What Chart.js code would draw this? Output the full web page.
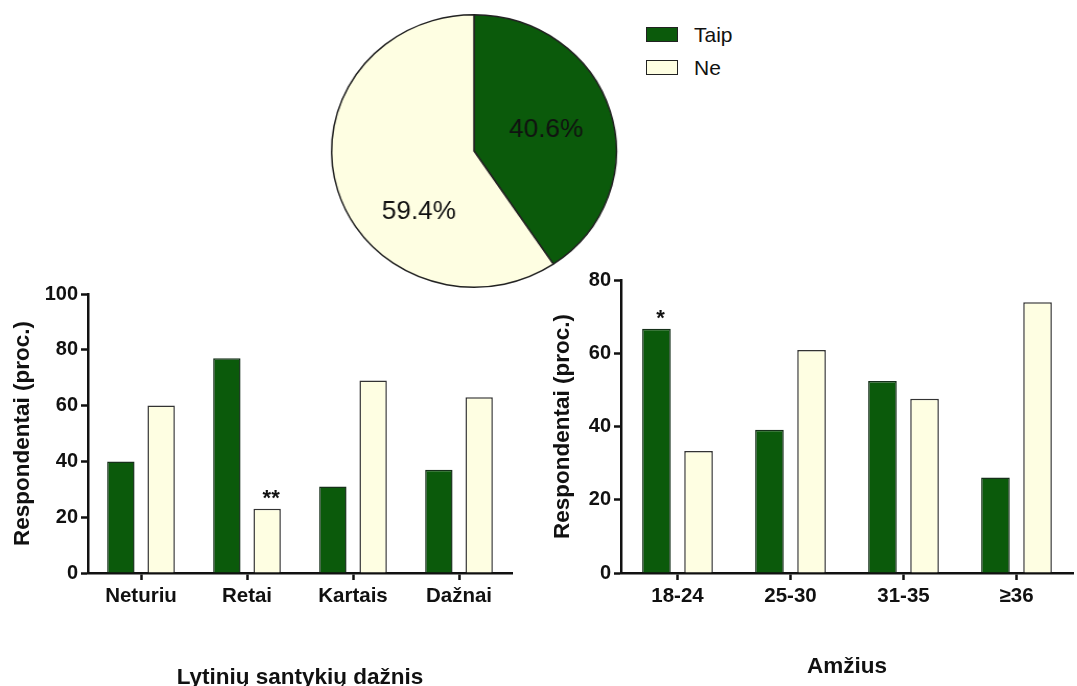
<!DOCTYPE html>
<html>
<head>
<meta charset="utf-8">
<script src="https://cdn.jsdelivr.net/npm/chart.js@4"></script>
<style>
  html, body { margin: 0; padding: 0; background: #fff; overflow: hidden; }
  body { width: 1077px; height: 686px; position: relative; font-family: 'Liberation Sans', Arial, sans-serif; }
  .box { position: absolute; }
  #pieBox { left: 334px; top: 11px; width: 280px; height: 280px; transform: scaleX(1.045); transform-origin: 140px 140px; }
  #leftBox { left: 0; top: 250px; width: 540px; height: 450px; }
  #rightBox { left: 540px; top: 250px; width: 537px; height: 450px; }
  #legend { position: absolute; left: 646px; top: 18px; }
  .leg-row { display: flex; align-items: center; height: 33px; font-size: 21px; color: #111; }
  .leg-sw { width: 30px; height: 13px; margin-right: 16px; border: 1.5px solid #222; }
</style>
</head>
<body>
<div class="box" id="pieBox"><canvas id="pie" width="280" height="280"></canvas></div>
<div id="legend"></div>
<div class="box" id="leftBox"><canvas id="left" width="540" height="450"></canvas></div>
<div class="box" id="rightBox"><canvas id="right" width="537" height="450"></canvas></div>
<script>
// series
const seriesNames = ['Taip', 'Ne'];
const seriesColors = ['#0b5a0b', '#fefee2'];
const seriesBorders = ['#16301a', '#333333'];

// pie: share of all respondents
const pieValues = [40.6, 59.4];

// frequency of sexual intercourse
const freqCategories = ['Neturiu', 'Retai', 'Kartais', 'Dažnai'];
const freqTaip = [40, 77, 31, 37];
const freqNe = [60, 23, 69, 63];
const freqMarks = [['', '', '', ''], ['', '**', '', '']];
const freqTicks = [0, 20, 40, 60, 80, 100];

// age groups
const ageCategories = ['18-24', '25-30', '31-35', '≥36'];
const ageTaip = [66.7, 39.1, 52.4, 26.1];
const ageNe = [33.3, 60.9, 47.6, 73.9];
const ageMarks = [['*', '', '', ''], ['', '', '', '']];
const ageTicks = [0, 20, 40, 60, 80];

const FONT = "'Liberation Sans', Arial, sans-serif";
Chart.defaults.font.family = FONT;
Chart.defaults.color = '#111';
Chart.defaults.animation = false;

// legend
const legend = document.getElementById('legend');
seriesNames.forEach((name, i) => {
  const row = document.createElement('div');
  row.className = 'leg-row';
  const sw = document.createElement('span');
  sw.className = 'leg-sw';
  sw.style.background = seriesColors[i];
  row.appendChild(sw);
  row.appendChild(document.createTextNode(name));
  legend.appendChild(row);
});

// percentage labels inside the pie slices
const pieLabelSpots = [{ deg: 73, frac: 0.53 }, { deg: 221, frac: 0.59 }];
const pieLabels = {
  id: 'pieLabels',
  afterDatasetsDraw(chart) {
    const ctx = chart.ctx;
    const arcs = chart.getDatasetMeta(0).data;
    ctx.save();
    ctx.font = '25px ' + FONT;
    ctx.fillStyle = '#111';
    ctx.textAlign = 'center';
    ctx.textBaseline = 'middle';
    arcs.forEach((arc, i) => {
      const spot = pieLabelSpots[i];
      const a = spot.deg * Math.PI / 180;
      const r = arc.outerRadius * spot.frac;
      ctx.fillText(pieValues[i].toFixed(1) + '%', arc.x + Math.sin(a) * r, arc.y - Math.cos(a) * r);
    });
    ctx.restore();
  }
};

new Chart(document.getElementById('pie'), {
  type: 'pie',
  data: {
    labels: seriesNames,
    datasets: [{
      data: pieValues,
      backgroundColor: seriesColors,
      borderColor: '#222',
      borderWidth: 1.5
    }]
  },
  options: {
    responsive: false,
    layout: { padding: 3 },
    plugins: { legend: { display: false }, tooltip: { enabled: false } }
  },
  plugins: [pieLabels]
});

// significance stars above bars
const starMarks = {
  id: 'starMarks',
  afterDatasetsDraw(chart, args, opts) {
    const ctx = chart.ctx;
    ctx.save();
    ctx.font = 'bold 22px ' + FONT;
    ctx.fillStyle = '#111';
    ctx.textAlign = 'center';
    ctx.textBaseline = 'alphabetic';
    opts.marks.forEach((row, d) => {
      const meta = chart.getDatasetMeta(d);
      row.forEach((m, i) => {
        if (!m) return;
        const bar = meta.data[i];
        ctx.fillText(m, bar.x + 4, bar.y - 4);
      });
    });
    ctx.restore();
  }
};

function barChart(id, categories, taip, ne, marks, ticks, xTitle, opt) {
  const yMax = ticks[ticks.length - 1];
  return new Chart(document.getElementById(id), {
    type: 'bar',
    data: {
      labels: categories,
      datasets: [taip, ne].map((vals, i) => ({
        label: seriesNames[i],
        data: vals,
        backgroundColor: seriesColors[i],
        borderColor: seriesBorders[i],
        borderWidth: 1.5,
        barPercentage: 0.68,
        categoryPercentage: opt.catPct
      }))
    },
    options: {
      responsive: false,
      layout: { padding: { top: opt.top, right: opt.right, left: 0, bottom: 0 } },
      plugins: {
        legend: { display: false },
        tooltip: { enabled: false },
        starMarks: { marks: marks }
      },
      scales: {
        x: {
          grid: { display: true, drawOnChartArea: false, offset: false, tickLength: 7, tickWidth: 2.5, tickColor: '#111' },
          border: { display: true, color: '#111', width: 2.5 },
          ticks: { padding: 4, font: { size: 20.5, weight: 'bold' }, color: '#111' },
          title: { display: true, text: xTitle, font: { size: 22.5, weight: 'bold' }, color: '#111', padding: { top: 0, bottom: opt.xTitlePad } },
          afterFit(scale) { scale.height = opt.xHeight; }
        },
        y: {
          min: 0,
          max: yMax,
          afterBuildTicks(scale) { scale.ticks = ticks.map(v => ({ value: v })); },
          grid: { display: true, drawOnChartArea: false, tickLength: 7, tickWidth: 2.5, tickColor: '#111' },
          border: { display: true, color: '#111', width: 2.5 },
          ticks: { padding: 3, font: { size: 20, weight: 'bold' }, color: '#111' },
          title: { display: true, text: 'Respondentai (proc.)', font: { size: 22.5, weight: 'bold' }, color: '#111', padding: { top: 9, bottom: 0 } },
          afterFit(scale) { scale.width = opt.yWidth; }
        }
      }
    },
    plugins: [starMarks]
  });
}

barChart('left', freqCategories, freqTaip, freqNe, freqMarks, freqTicks, 'Lytinių santykių dažnis',
  { top: 44, right: 28, yWidth: 88, xHeight: 127, xTitlePad: 9, catPct: 0.76 });
barChart('right', ageCategories, ageTaip, ageNe, ageMarks, ageTicks, 'Amžius',
  { top: 30, right: 4, yWidth: 81, xHeight: 127, xTitlePad: 20, catPct: 0.745 });
</script>
</body>
</html>
